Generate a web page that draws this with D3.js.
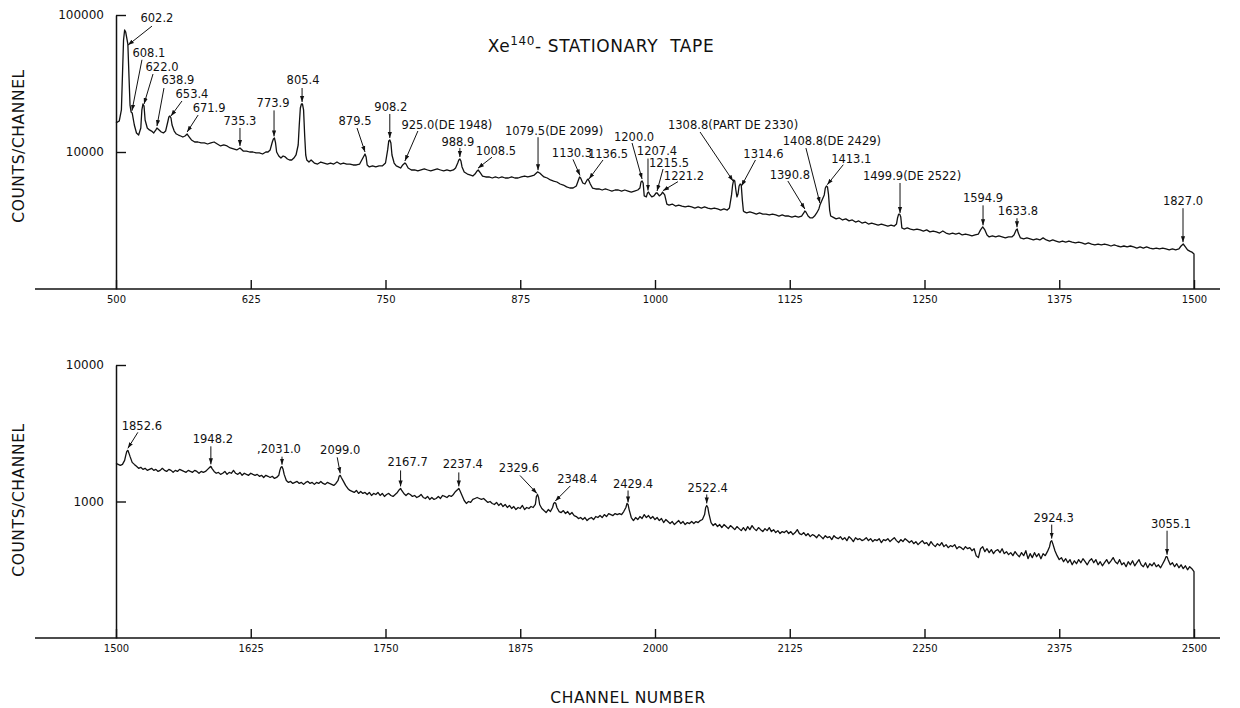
<!DOCTYPE html>
<html>
<head>
<meta charset="utf-8">
<script src="https://cdn.jsdelivr.net/npm/d3@7"></script>
<style>
    body { margin: 0; background: #fff; }
    svg { font-family: "DejaVu Sans", "Liberation Sans", sans-serif; }
    .trace { fill: none; stroke: #111; stroke-width: 1.3; stroke-linejoin: round; }
    .baseline { stroke: #111; stroke-width: 1.5; }
    .x-axis line, .y-axis line { stroke: #111; stroke-width: 1.4; }
    .y-axis .domain { stroke: #111; stroke-width: 1.5; }
    .x-axis text, .y-axis text { fill: #111; }
    .peak-label { font-size: 11.5px; fill: #111; }
    .peak-arrow { stroke: #111; stroke-width: 1; }
    .axis-title { font-size: 15.5px; fill: #111; letter-spacing: 0.6px; }
    .title { font-size: 17px; fill: #111; letter-spacing: 0.6px; white-space: pre; }
</style>
</head>
<body>
<div id="chart"></div>
<script>
var topTicksX = [500, 625, 750, 875, 1000, 1125, 1250, 1375, 1500];
var bottomTicksX = [1500, 1625, 1750, 1875, 2000, 2125, 2250, 2375, 2500];
var topTicksY = [10000, 100000];
var bottomTicksY = [1000, 10000];

// counts per channel, [channel, counts]
var topSpectrum = [
    [500,16300],[503,16830],[505,20300],[507,65700],[508,77700],[509,75100],[510,67900],[511,61400],[512,36500],[513,22000],
    [514,19600],[515,19270],[517,15740],[519,13770],[521,13300],[523,14960],[524,20300],[525,22400],[526,21660],[527,17130],
    [529,14960],[531,14490],[533,14220],[535,13770],[537,14490],[538,14960],[540,14490],[542,14000],[544,13770],[546,14220],
    [548,16560],[549,18000],[550,18320],[551,17710],[552,15740],[554,14220],[556,13530],[558,13300],[560,13090],[562,12860],
    [564,13090],[566,13530],[568,12860],[570,12240],[573,11830],[576,11830],[579,11640],[582,11640],[585,11440],[588,11640],
    [591,11830],[594,11440],[597,11070],[600,11250],[603,11070],[606,10700],[609,10520],[612,10350],[615,10700],[618,10160],
    [621,10160],[624,10000],[627,10000],[630,9840],[633,9840],[636,9670],[639,10000],[641,10000],[643,10350],[645,11830],
    [646,12450],[647,12650],[648,11640],[649,10000],[651,9350],[653,9040],[655,9350],[657,9200],[659,8890],[661,8740],
    [663,8740],[665,9040],[667,9510],[669,11250],[670,15740],[671,20940],[672,22400],[673,22400],[674,20300],[675,13300],
    [676,9510],[677,8740],[679,8450],[681,8740],[684,8310],[687,8170],[690,8450],[693,8310],[696,8170],[699,8310],
    [702,8170],[705,8450],[708,8170],[711,8310],[714,8170],[717,8170],[720,8040],[723,8040],[726,8170],[728,8740],
    [730,9350],[731,9670],[732,9200],[733,8040],[735,7780],[738,7910],[741,7780],[744,7910],[747,7910],[750,8310],
    [752,10350],[753,12020],[754,12240],[755,11640],[756,9510],[758,8310],[760,7910],[762,7780],[764,7640],[766,8040],
    [768,8310],[769,8170],[771,7640],[774,7390],[777,7390],[780,7270],[783,7390],[786,7520],[789,7390],[792,7270],
    [795,7390],[798,7520],[801,7390],[804,7270],[807,7390],[810,7270],[813,7390],[815,7640],[817,8310],[818,8740],
    [819,8890],[820,8590],[821,7780],[823,7150],[826,6900],[829,6790],[831,6680],[833,6900],[835,7270],[836,7390],
    [838,7030],[840,6680],[843,6570],[846,6570],[849,6460],[852,6570],[855,6460],[858,6570],[861,6460],[864,6460],
    [867,6570],[870,6460],[873,6460],[876,6570],[879,6680],[882,6570],[885,6680],[888,6790],[890,7030],[891,7150],
    [893,7030],[895,6790],[897,6570],[900,6460],[903,6250],[906,6140],[909,6040],[912,5840],[915,5740],[918,5560],
    [921,5460],[924,5460],[927,5650],[929,6250],[930,6570],[931,6460],[933,5940],[935,5840],[937,6250],[938,6360],
    [940,5840],[942,5460],[945,5370],[948,5370],[951,5280],[954,5370],[957,5280],[960,5190],[963,5280],[966,5280],
    [969,5190],[972,5280],[975,5190],[978,5100],[981,5190],[984,5280],[986,5460],[987,6040],[988,6140],[989,5940],
    [990,4780],[992,4700],[993,5020],[994,5100],[995,4930],[997,4700],[999,4780],[1001,5020],[1002,5020],[1004,4780],
    [1006,4930],[1007,5100],[1009,4860],[1011,4170],[1013,4100],[1016,4170],[1019,4030],[1022,4100],[1025,4030],[1028,3970],
    [1031,4030],[1034,3970],[1037,3900],[1040,3970],[1043,3900],[1046,3970],[1049,3900],[1052,3840],[1055,3900],[1058,3840],
    [1061,3770],[1064,3840],[1067,3770],[1069,3900],[1071,4860],[1072,5740],[1073,6250],[1074,6140],[1075,5280],[1076,4700],
    [1077,4930],[1078,5650],[1079,5840],[1080,5740],[1081,4470],[1082,3710],[1083,3650],[1085,3590],[1088,3650],[1091,3590],
    [1094,3520],[1097,3590],[1100,3520],[1103,3520],[1106,3470],[1109,3520],[1112,3470],[1115,3410],[1118,3470],[1121,3410],
    [1124,3410],[1127,3350],[1130,3410],[1133,3350],[1136,3410],[1138,3590],[1139,3710],[1140,3650],[1142,3410],[1144,3300],
    [1146,3300],[1148,3410],[1150,3590],[1152,3840],[1153,4100],[1155,4470],[1157,4860],[1158,5460],[1159,5650],[1160,5560],
    [1161,4860],[1162,3770],[1163,3410],[1165,3350],[1168,3250],[1171,3300],[1174,3190],[1177,3250],[1180,3140],[1183,3190],
    [1186,3080],[1189,3140],[1192,3030],[1195,3080],[1198,2980],[1201,3030],[1204,2980],[1207,2930],[1210,2980],[1213,2930],
    [1216,2880],[1219,2930],[1222,2880],[1224,2980],[1225,3300],[1226,3520],[1227,3520],[1228,3350],[1229,2790],[1231,2740],
    [1234,2790],[1237,2740],[1240,2700],[1243,2740],[1246,2700],[1249,2650],[1252,2700],[1255,2610],[1258,2650],[1261,2610],
    [1264,2560],[1267,2650],[1270,2560],[1273,2520],[1276,2560],[1279,2520],[1282,2560],[1285,2480],[1288,2520],[1291,2480],
    [1294,2440],[1297,2480],[1300,2520],[1302,2700],[1304,2840],[1306,2700],[1308,2480],[1310,2400],[1313,2440],[1316,2400],
    [1319,2440],[1322,2400],[1325,2360],[1328,2400],[1331,2400],[1333,2480],[1335,2700],[1336,2740],[1337,2560],[1339,2360],
    [1342,2320],[1345,2360],[1348,2320],[1351,2280],[1354,2320],[1357,2280],[1360,2360],[1363,2280],[1366,2240],[1369,2280],
    [1372,2240],[1375,2200],[1378,2240],[1381,2200],[1384,2240],[1387,2200],[1390,2170],[1393,2200],[1396,2170],[1399,2130],
    [1402,2170],[1405,2130],[1408,2100],[1411,2130],[1414,2100],[1417,2130],[1420,2100],[1423,2060],[1426,2100],[1429,2060],
    [1432,2030],[1435,2060],[1438,2030],[1441,2060],[1444,2030],[1447,1990],[1450,2030],[1453,1990],[1456,2030],[1459,1990],
    [1462,1960],[1465,1990],[1468,1960],[1471,1990],[1474,1960],[1477,1930],[1480,1960],[1483,1930],[1486,1960],[1488,2060],
    [1490,2130],[1492,2030],[1494,1930],[1496,1890],[1498,1860],[1500,1800]
];

var bottomSpectrum = [
    [1500,1900],[1502,1870],[1504,1840],[1506,1870],[1508,2000],[1509,2170],[1510,2330],[1511,2370],[1512,2260],[1513,2140],
    [1515,1935],[1517,1870],[1519,1810],[1521,1750],[1523,1780],[1525,1720],[1527,1750],[1529,1690],[1531,1720],[1533,1750],
    [1535,1690],[1537,1720],[1539,1660],[1541,1690],[1543,1750],[1545,1690],[1547,1660],[1549,1720],[1551,1690],[1553,1635],
    [1555,1690],[1557,1660],[1559,1720],[1561,1690],[1563,1660],[1565,1635],[1567,1690],[1569,1660],[1571,1635],[1573,1690],
    [1575,1660],[1577,1610],[1579,1660],[1581,1635],[1583,1660],[1585,1720],[1587,1780],[1588,1810],[1589,1750],[1591,1660],
    [1593,1610],[1595,1635],[1597,1580],[1599,1610],[1601,1660],[1603,1580],[1605,1635],[1607,1610],[1609,1690],[1611,1610],
    [1613,1580],[1615,1635],[1617,1555],[1619,1610],[1621,1580],[1623,1555],[1625,1610],[1627,1580],[1629,1555],[1631,1580],
    [1633,1530],[1635,1555],[1637,1500],[1639,1555],[1641,1530],[1643,1500],[1645,1530],[1647,1476],[1649,1500],[1651,1555],
    [1652,1690],[1653,1780],[1654,1800],[1655,1720],[1656,1580],[1658,1427],[1660,1380],[1662,1403],[1664,1356],[1666,1380],
    [1668,1403],[1670,1356],[1672,1380],[1674,1335],[1676,1380],[1678,1403],[1680,1356],[1682,1380],[1684,1335],[1686,1380],
    [1688,1356],[1690,1403],[1692,1356],[1694,1335],[1696,1380],[1698,1356],[1700,1335],[1702,1312],[1704,1356],[1706,1427],
    [1707,1530],[1708,1555],[1709,1500],[1711,1403],[1713,1312],[1715,1247],[1717,1205],[1719,1185],[1721,1165],[1723,1205],
    [1725,1146],[1727,1185],[1729,1146],[1731,1165],[1733,1126],[1735,1165],[1737,1107],[1739,1146],[1741,1126],[1743,1165],
    [1745,1107],[1747,1146],[1749,1089],[1751,1126],[1753,1146],[1755,1107],[1757,1089],[1759,1126],[1761,1165],[1763,1225],
    [1764,1247],[1765,1205],[1767,1146],[1769,1107],[1771,1146],[1773,1126],[1775,1089],[1777,1107],[1779,1070],[1781,1089],
    [1783,1126],[1785,1070],[1787,1052],[1789,1089],[1791,1035],[1793,1070],[1795,1035],[1797,1052],[1799,1089],[1801,1052],
    [1803,1107],[1805,1089],[1807,1070],[1809,1107],[1811,1089],[1813,1126],[1815,1185],[1817,1225],[1818,1247],[1819,1205],
    [1821,1107],[1823,1017],[1825,967],[1827,1000],[1829,984],[1831,1035],[1833,1052],[1835,1070],[1837,1052],[1839,1035],
    [1841,1052],[1843,1017],[1845,984],[1847,1000],[1849,967],[1851,951],[1853,984],[1855,935],[1857,967],[1859,919],
    [1861,951],[1863,904],[1865,935],[1867,889],[1869,919],[1871,873],[1873,904],[1875,889],[1877,935],[1879,873],
    [1881,904],[1883,889],[1885,919],[1887,904],[1889,951],[1890,1089],[1891,1126],[1892,1070],[1893,951],[1895,889],
    [1897,858],[1899,830],[1901,873],[1903,844],[1905,904],[1906,967],[1907,984],[1908,967],[1909,904],[1911,844],
    [1913,830],[1915,858],[1917,816],[1919,844],[1921,802],[1923,830],[1925,789],[1927,776],[1929,750],[1931,763],
    [1933,738],[1935,763],[1937,725],[1939,750],[1941,763],[1943,738],[1945,776],[1947,763],[1949,789],[1951,763],
    [1953,802],[1955,776],[1957,816],[1959,802],[1961,789],[1963,816],[1965,802],[1967,816],[1969,802],[1971,844],
    [1973,904],[1974,967],[1975,951],[1976,873],[1978,763],[1980,725],[1982,763],[1984,738],[1986,776],[1988,750],
    [1990,802],[1992,763],[1994,789],[1996,750],[1998,776],[2000,738],[2002,763],[2004,725],[2006,750],[2008,701],
    [2010,738],[2012,713],[2014,689],[2016,713],[2018,678],[2020,701],[2022,725],[2024,689],[2026,713],[2028,678],
    [2030,701],[2032,689],[2034,713],[2036,689],[2038,713],[2040,701],[2042,725],[2044,738],[2046,802],[2047,904],
    [2048,935],[2049,904],[2050,816],[2052,701],[2054,666],[2056,689],[2058,655],[2060,678],[2062,644],[2064,678],
    [2066,655],[2068,633],[2070,666],[2072,644],[2074,622],[2076,655],[2078,633],[2080,612],[2082,644],[2084,612],
    [2086,655],[2088,622],[2090,666],[2092,633],[2094,612],[2096,644],[2098,622],[2100,602],[2102,633],[2104,612],
    [2106,644],[2108,602],[2110,622],[2112,592],[2114,612],[2116,582],[2118,602],[2120,592],[2122,612],[2124,582],
    [2126,602],[2128,572],[2130,592],[2132,622],[2134,582],[2136,572],[2138,592],[2140,562],[2142,582],[2144,553],
    [2146,572],[2148,562],[2150,543],[2152,572],[2154,553],[2156,534],[2158,562],[2160,543],[2162,553],[2164,526],
    [2166,562],[2168,543],[2170,534],[2172,553],[2174,526],[2176,543],[2178,517],[2180,553],[2182,534],[2184,508],
    [2186,543],[2188,526],[2190,534],[2192,517],[2194,526],[2196,543],[2198,517],[2200,534],[2202,508],[2204,526],
    [2206,517],[2208,534],[2210,500],[2212,526],[2214,517],[2216,534],[2218,508],[2220,526],[2222,543],[2224,517],
    [2226,500],[2228,526],[2230,508],[2232,534],[2234,517],[2236,500],[2238,517],[2240,491],[2242,508],[2244,483],
    [2246,500],[2248,517],[2250,491],[2252,500],[2254,475],[2256,508],[2258,483],[2260,467],[2262,491],[2264,475],
    [2266,500],[2268,467],[2270,483],[2272,459],[2274,475],[2276,467],[2278,483],[2280,451],[2282,467],[2284,459],
    [2286,444],[2288,467],[2290,451],[2292,459],[2294,436],[2296,451],[2298,400],[2300,388],[2302,451],[2304,467],
    [2306,429],[2308,451],[2310,422],[2312,444],[2314,415],[2316,436],[2318,444],[2320,422],[2322,451],[2324,415],
    [2326,429],[2328,408],[2330,422],[2332,401],[2334,429],[2336,408],[2338,394],[2340,422],[2342,401],[2344,436],
    [2346,381],[2348,415],[2350,388],[2352,422],[2354,394],[2356,415],[2358,381],[2360,415],[2362,401],[2364,429],
    [2366,467],[2367,508],[2368,517],[2369,491],[2371,436],[2373,401],[2375,375],[2377,388],[2379,362],[2381,381],
    [2383,356],[2385,375],[2387,344],[2389,368],[2391,350],[2393,375],[2395,356],[2397,381],[2399,362],[2401,344],
    [2403,368],[2405,381],[2407,356],[2409,375],[2411,344],[2413,362],[2415,338],[2417,356],[2419,375],[2421,350],
    [2423,368],[2425,388],[2427,362],[2429,350],[2431,375],[2433,344],[2435,356],[2437,333],[2439,362],[2441,344],
    [2443,368],[2445,338],[2447,356],[2449,375],[2451,344],[2453,333],[2455,356],[2457,327],[2459,350],[2461,338],
    [2463,356],[2465,333],[2467,344],[2469,327],[2471,350],[2473,375],[2474,394],[2475,394],[2476,375],[2478,344],
    [2480,356],[2482,333],[2484,350],[2486,327],[2488,344],[2490,322],[2492,338],[2494,316],[2496,333],[2498,322],
    [2500,306]
];

// peak energies (keV) and the channel their arrow points at
var topPeaks = [
    {label: "602.2", ch: 511.1}, {label: "608.1", ch: 514.8}, {label: "622.0", ch: 526},
    {label: "638.9", ch: 538}, {label: "653.4", ch: 551}, {label: "671.9", ch: 566},
    {label: "735.3", ch: 615}, {label: "773.9", ch: 646.6}, {label: "805.4", ch: 672.6},
    {label: "879.5", ch: 731}, {label: "908.2", ch: 754}, {label: "925.0(DE 1948)", ch: 768},
    {label: "988.9", ch: 819}, {label: "1008.5", ch: 835.8}, {label: "1079.5(DE 2099)", ch: 891.5},
    {label: "1130.3", ch: 930.4}, {label: "1136.5", ch: 938.8}, {label: "1200.0", ch: 988},
    {label: "1207.4", ch: 993.5}, {label: "1215.5", ch: 1001.9}, {label: "1221.2", ch: 1007.4},
    {label: "1308.8(PART DE 2330)", ch: 1072.4}, {label: "1314.6", ch: 1080.2}, {label: "1390.8", ch: 1139},
    {label: "1408.8(DE 2429)", ch: 1153}, {label: "1413.1", ch: 1159.8}, {label: "1499.9(DE 2522)", ch: 1227.3},
    {label: "1594.9", ch: 1304.3}, {label: "1633.8", ch: 1335.8}, {label: "1827.0", ch: 1489.8}
];

var bottomPeaks = [
    {label: "1852.6", ch: 1511}, {label: "1948.2", ch: 1588}, {label: ",2031.0", ch: 1654},
    {label: "2099.0", ch: 1708}, {label: "2167.7", ch: 1764}, {label: "2237.4", ch: 1818},
    {label: "2329.6", ch: 1890.5}, {label: "2348.4", ch: 1907.5}, {label: "2429.4", ch: 1975},
    {label: "2522.4", ch: 2048}, {label: "2924.3", ch: 2368}, {label: "3055.1", ch: 2475}
];

// label placement relative to the peak: [dx, dy, arrow tail dx, arrow tail dy]
var topLabelLayout = [
    [29,-25,-5,4], [17,-56,-7,3], [18,-35,-9,3], [21,-44,-14,4], [21,-20,-10,3], [22,-22,-11,3],
    [0,-23,0,3], [-1,-31,1,3], [1,-20,-1,4], [-10,-29,2,3], [1,-29,-1,3], [42,-34,-29,2],
    [-2,-13,2,2], [18,-15,-4,2], [16,-37,-16,2], [-8,-20,1,2], [19,-23,-5,2], [-8,-40,-2,2],
    [9,-38,-9,4], [12,-26,-6,2], [21,-13,-6,2], [0,-54,-33,3], [22,-30,-8,2], [-15,-32,-2,2],
    [12,-60,-26,3], [24,-24,-8,2], [12,-35,-12,3], [0,-25,0,3], [1,-14,-1,3], [0,-39,0,3]
];

var bottomLabelLayout = [
    [14,-20,-4,2], [2,-23,-2,3], [-3,-14,3,4], [0,-21,-3,3], [7,-22,-7,4], [4,-20,-4,4],
    [-18,-23,1,3], [22,-20,-7,3], [5,-16,-5,2], [1,-13,-1,2], [2,-19,-2,3], [4,-29,-4,3]
];

var svg = d3.select("#chart")
    .append("svg")
    .attr("width", 1240)
    .attr("height", 708);

svg.append("defs")
    .append("marker")
    .attr("id", "arrowhead")
    .attr("viewBox", "0 0 10 10")
    .attr("refX", 10)
    .attr("refY", 5)
    .attr("markerWidth", 6)
    .attr("markerHeight", 6)
    .attr("markerUnits", "userSpaceOnUse")
    .attr("orient", "auto")
    .append("path")
    .attr("d", "M0,1.5L10,5L0,8.5Z")
    .attr("fill", "#111");

// log interpolation between read points, used to sit arrows on the trace
function valueAt(series, ch) {
    var i = d3.bisector(function(d) { return d[0]; }).right(series, ch) - 1;
    i = Math.max(0, Math.min(series.length - 2, i));
    var a = series[i], b = series[i + 1],
        t = (ch - a[0]) / (b[0] - a[0]);
    return Math.exp(Math.log(a[1]) + t * (Math.log(b[1]) - Math.log(a[1])));
}

function drawPanel(cfg) {
    var x = d3.scaleLinear().domain(cfg.xDomain).range([116, 1194]),
        y = d3.scaleLog().domain(cfg.yDomain).range([cfg.bottom, cfg.top]),
        g = svg.append("g");

    g.append("line")
        .attr("class", "baseline")
        .attr("x1", 35)
        .attr("x2", 1220)
        .attr("y1", cfg.bottom)
        .attr("y2", cfg.bottom);

    g.append("g")
        .attr("class", "x-axis")
        .attr("transform", "translate(0," + cfg.bottom + ")")
        .call(d3.axisBottom(x).tickValues(cfg.xTicks).tickFormat(d3.format("d"))
            .tickSize(-9).tickSizeOuter(0).tickPadding(7))
        .attr("font-family", null)
        .attr("font-size", 10)
        .call(function(a) { a.select(".domain").remove(); });

    g.append("g")
        .attr("class", "y-axis")
        .attr("transform", "translate(116,0)")
        .call(d3.axisLeft(y).tickValues(cfg.yTicks).tickFormat(d3.format("d"))
            .tickSize(-10).tickSizeOuter(0).tickPadding(12))
        .attr("font-family", null)
        .attr("font-size", 12);

    var line = d3.line()
        .x(function(d) { return x(d[0]); })
        .y(function(d) { return y(d[1]); });

    // the record stops at the last channel: trace falls to the axis
    var last = cfg.spectrum[cfg.spectrum.length - 1];
    g.append("path")
        .datum(cfg.spectrum.concat([[last[0], cfg.yDomain[0]]]))
        .attr("class", "trace")
        .attr("d", line);

    cfg.peaks.forEach(function(p, i) {
        var lay = cfg.layout[i],
            px = x(p.ch),
            py = y(valueAt(cfg.spectrum, p.ch)),
            lx = px + lay[0],
            ly = py + lay[1];

        g.append("line")
            .attr("class", "peak-arrow")
            .attr("x1", lx + lay[2])
            .attr("y1", ly + lay[3])
            .attr("x2", px)
            .attr("y2", py - 2)
            .attr("marker-end", "url(#arrowhead)");

        g.append("text")
            .attr("class", "peak-label")
            .attr("x", lx)
            .attr("y", ly)
            .attr("text-anchor", "middle")
            .text(p.label);
    });

    svg.append("text")
        .attr("class", "axis-title")
        .attr("transform", "translate(24," + cfg.labelY + ") rotate(-90)")
        .attr("text-anchor", "middle")
        .text("COUNTS/CHANNEL");
}

drawPanel({
    xDomain: [500, 1500], yDomain: [1000, 100000], top: 15, bottom: 289, labelY: 146,
    xTicks: topTicksX, yTicks: topTicksY,
    spectrum: topSpectrum, peaks: topPeaks, layout: topLabelLayout
});

drawPanel({
    xDomain: [1500, 2500], yDomain: [100, 10000], top: 365, bottom: 638, labelY: 500,
    xTicks: bottomTicksX, yTicks: bottomTicksY,
    spectrum: bottomSpectrum, peaks: bottomPeaks, layout: bottomLabelLayout
});

var title = svg.append("text")
    .attr("class", "title")
    .attr("x", 601)
    .attr("y", 52)
    .attr("text-anchor", "middle");
title.append("tspan").text("Xe");
title.append("tspan").attr("dy", -7).attr("font-size", 12).text("140");
title.append("tspan").attr("dy", 7).text("- STATIONARY  TAPE");

svg.append("text")
    .attr("class", "axis-title")
    .attr("x", 628)
    .attr("y", 703)
    .attr("text-anchor", "middle")
    .text("CHANNEL NUMBER");
</script>
</body>
</html>
